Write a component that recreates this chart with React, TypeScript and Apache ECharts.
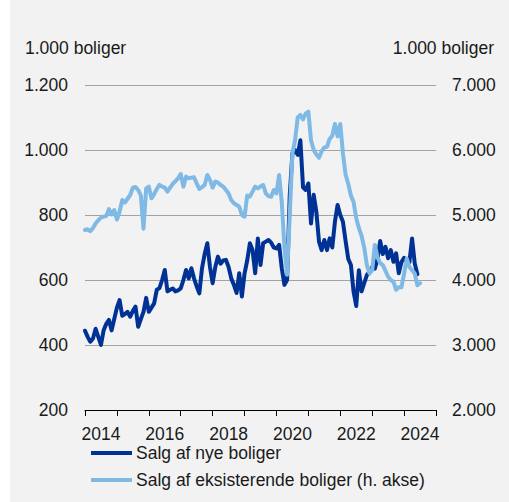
import React, { useEffect, useRef } from 'react';
import * as echarts from 'echarts';

const START_YEAR = 2014;
const X_TICK_YEARS_END = 2025;

// Monthly values from Jan 2014, 1.000 homes (left axis)
const newHomeSales = [
  444, 425, 410, 420, 450, 425, 400, 445, 465, 477, 445, 480,
  515, 538, 490, 495, 502, 487, 505, 518, 456, 480, 502, 545,
  502, 515, 528, 570, 575, 600, 631, 565, 570, 574, 565, 568,
  574, 600, 631, 605, 636, 605, 580, 559, 636, 680, 713, 640,
  590, 640, 672, 650, 660, 662, 640, 605, 585, 560, 621, 549,
  620, 660, 713, 692, 621, 728, 646, 713, 718, 723, 715, 700,
  697, 708, 636, 585, 600, 860, 990, 1000, 985, 1030, 885, 877,
  897, 774, 862, 810, 718, 692, 723, 692, 728, 700, 780, 831,
  800, 779, 720, 665, 646, 564, 520, 630, 565, 590, 615, 625,
  640, 635, 665, 720, 680, 702, 667, 692, 656, 682, 621, 655,
  668, 660, 655, 728, 651, 618
];

// Monthly values from Jan 2014, 1.000 homes (right axis)
const existingHomeSales = [
  4769, 4780, 4750, 4800, 4870, 4920, 4960, 4975, 4985, 5090, 5010, 5077,
  4930, 5050, 5231, 5190, 5250, 5308, 5420, 5430, 5385, 5300, 4790, 5410,
  5436, 5257, 5320, 5400, 5462, 5436, 5420, 5359, 5420, 5480, 5520, 5564,
  5630, 5436, 5590, 5564, 5575, 5580, 5487, 5400, 5430, 5462, 5615, 5540,
  5420, 5513, 5500, 5462, 5436, 5385, 5330, 5230, 5180, 5154, 5128, 5000,
  4974, 5300, 5282, 5359, 5436, 5410, 5440, 5462, 5333, 5290, 5282, 5385,
  5333, 5615, 5200, 4500, 4080, 5000, 5950, 6150, 6500, 6540, 6470, 6560,
  6590, 6150, 6000, 5930, 5880, 5980, 6040, 6050, 6170, 6220, 6400, 6210,
  6400, 5950, 5620, 5480, 5300, 5200, 4950, 4800, 4680, 4500, 4230, 4100,
  4150, 4540, 4350, 4260, 4230, 4140, 4050, 4000, 3974, 3850, 3890, 3887,
  4100, 4330, 4200, 4150, 4100, 3920, 3950
];

const SERIES_NAMES = ['Salg af nye boliger', 'Salg af eksisterende boliger (h. akse)'];
const UNIT_LABEL = '1.000 boliger';

const DARK = '#003296';
const LIGHT = '#7fb9e6';
const TEXT = '#1a1a1a';
const FONT = "'Liberation Sans', Arial, Helvetica, sans-serif";
const FS = 17.5;

const fmt = (v: number) => String(v).replace(/\B(?=(\d{3})+(?!\d))/g, '.');

export default function App() {
  const ref = useRef<HTMLDivElement>(null);
  useEffect(() => {
    document.body.style.margin = '0';
    const chart = echarts.init(ref.current!, undefined, { renderer: 'svg' });
    const toPoints = (arr: number[]) => arr.map((v, i) => [START_YEAR + i / 12, v]);
    chart.setOption({
      animation: false,
      backgroundColor: '#f2f2f2',
      textStyle: { fontFamily: FONT },
      grid: { left: 75, right: 73, top: 85, bottom: 92, containLabel: false },
      xAxis: {
        type: 'value',
        min: START_YEAR,
        max: X_TICK_YEARS_END,
        interval: 1,
        axisLine: { show: true, onZero: false, lineStyle: { color: '#000', width: 1 } },
        axisTick: { show: true, length: 6, lineStyle: { color: '#000', width: 1 } },
        splitLine: { show: false },
        axisLabel: {
          formatter: (v: number) => (Math.round(v) % 2 === 0 && v < X_TICK_YEARS_END ? String(Math.round(v)) : ''),
          padding: [0, 0, 0, 32],
          align: 'center',
          margin: 15,
          fontSize: FS,
          fontFamily: FONT,
          color: TEXT,
          showMinLabel: true,
          showMaxLabel: true,
        },
      },
      yAxis: [
        {
          type: 'value', min: 200, max: 1200, interval: 200, position: 'left',
          axisLine: { show: false }, axisTick: { show: false },
          splitLine: { show: true, lineStyle: { color: '#a3a3a3', width: 1 } },
          axisLabel: { formatter: fmt, margin: 17, fontSize: FS, fontFamily: FONT, color: TEXT },
        },
        {
          type: 'value', min: 2000, max: 7000, interval: 1000, position: 'right',
          axisLine: { show: false }, axisTick: { show: false },
          splitLine: { show: false },
          axisLabel: { formatter: fmt, margin: 16, fontSize: FS, fontFamily: FONT, color: TEXT },
        },
      ],
      legend: {
        orient: 'vertical',
        left: 81,
        top: 443,
        padding: 0,
        itemGap: 7,
        itemWidth: 41,
        itemHeight: 4,
        icon: 'rect',
        data: SERIES_NAMES,
        textStyle: { fontSize: FS, fontFamily: FONT, color: TEXT, lineHeight: 20, padding: [0, 0, 0, -1] },
      },
      graphic: [
        { type: 'text', left: 15, top: 39, style: { text: UNIT_LABEL, font: `${FS}px ${FONT}`, fill: TEXT } },
        { type: 'text', right: 15, top: 39, style: { text: UNIT_LABEL, font: `${FS}px ${FONT}`, fill: TEXT } },
      ],
      series: [
        {
          name: SERIES_NAMES[0], type: 'line', yAxisIndex: 0, data: toPoints(newHomeSales),
          symbol: 'none', showSymbol: false, z: 2,
          lineStyle: { color: DARK, width: 4, join: 'round', cap: 'round' }, itemStyle: { color: DARK },
        },
        {
          name: SERIES_NAMES[1], type: 'line', yAxisIndex: 1, data: toPoints(existingHomeSales),
          symbol: 'none', showSymbol: false, z: 3,
          lineStyle: { color: LIGHT, width: 4, join: 'round', cap: 'round' }, itemStyle: { color: LIGHT },
        },
      ],
    });
    return () => chart.dispose();
  }, []);
  return <div ref={ref} style={{ position: 'absolute', left: 10, top: 0, width: 499, height: 502 }} />;
}
